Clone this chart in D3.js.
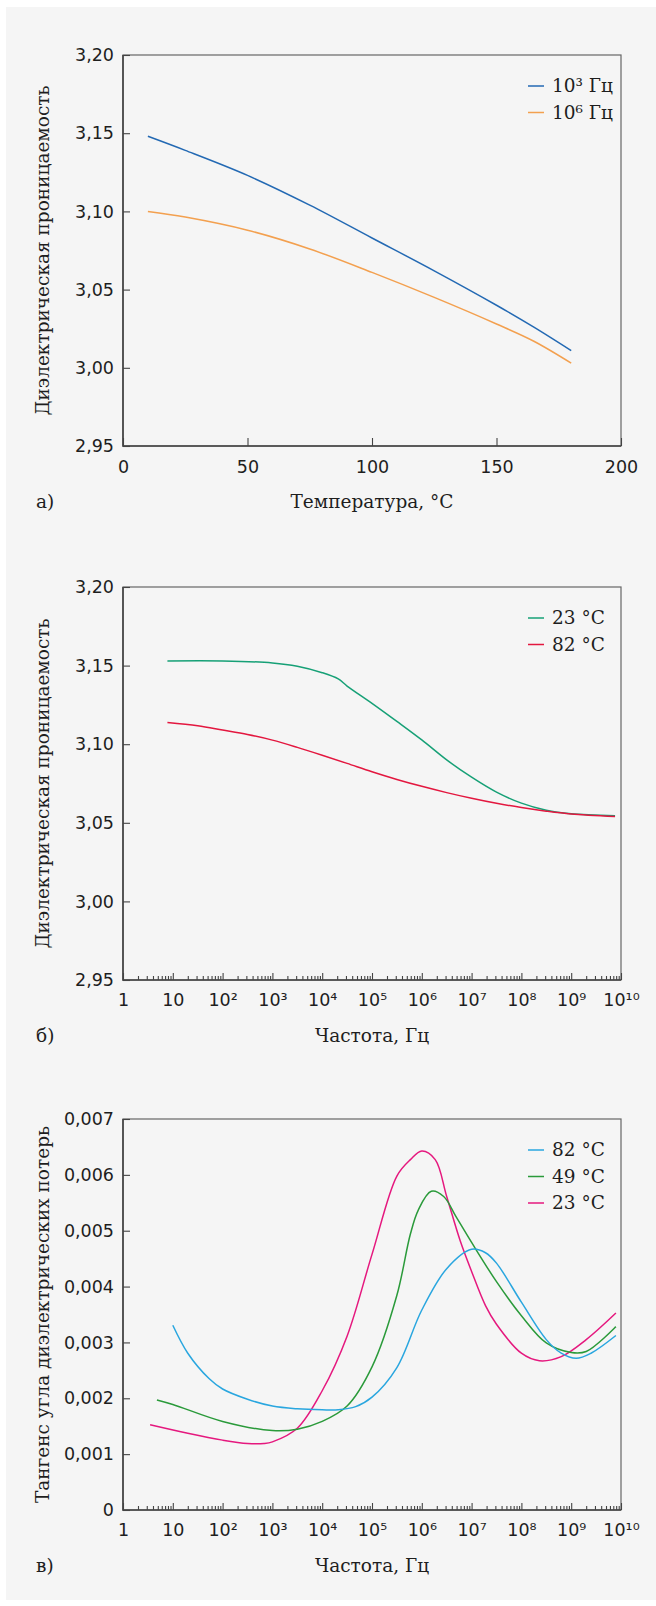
<!DOCTYPE html>
<html>
<head>
<meta charset="utf-8">
<script src="https://cdn.jsdelivr.net/npm/d3@7/dist/d3.min.js"></script>
<style>
body { margin: 0; background: #fff; }
text { fill: #1e1e1e; }
.num { font-family: "DejaVu Sans", sans-serif; font-size: 17.5px; }
.word { font-family: "DejaVu Serif", serif; font-size: 18.5px; }
</style>
</head>
<body>
<svg id="chart" width="656" height="1606"></svg>
<script>
// а) permittivity vs temperature
const tempC = [10, 25, 50, 75, 100, 125, 150, 165, 180]
const eps1e3 = [3.148, 3.139, 3.123, 3.104, 3.083, 3.062, 3.040, 3.026, 3.011]
const eps1e6 = [3.100, 3.0964, 3.088, 3.076, 3.061, 3.045, 3.028, 3.017, 3.003]
const tempTicks = [0, 50, 100, 150, 200]
const epsTicks = [2.95, 3.00, 3.05, 3.10, 3.15, 3.20]

// б) permittivity vs frequency
const freq23 = [7.8, 100, 1000, 3162, 1e4, 2.1e4, 3.16e4, 1e5, 3.16e5, 1e6, 3.16e6, 1e7, 3.16e7, 1e8, 3.16e8, 1e9, 7.6e9]
const eps23 = [3.153, 3.153, 3.1517, 3.1496, 3.1455, 3.1415, 3.137, 3.126, 3.1145, 3.1027, 3.090, 3.079, 3.0695, 3.0625, 3.058, 3.0558, 3.0545]
const freq82 = [7.8, 31.6, 100, 316, 1000, 3162, 1e4, 3.16e4, 1e5, 3.16e5, 1e6, 3.16e6, 1e7, 3.16e7, 1e8, 3.16e8, 1e9, 7.6e9]
const eps82 = [3.1138, 3.1117, 3.109, 3.1062, 3.1026, 3.098, 3.0930, 3.0878, 3.0825, 3.0776, 3.0732, 3.0692, 3.0656, 3.0624, 3.0597, 3.0574, 3.0556, 3.054]

// в) loss tangent vs frequency (values x 1e-3)
const tanFreq82 = [10, 20, 54, 100, 316, 1000, 3162, 1e4, 2.1e4, 4.7e4, 1e5, 3.16e5, 1e6, 3.16e6, 1e7, 1.9e7, 3.16e7, 1e8, 3.16e8, 6.3e8, 1.26e9, 2.5e9, 7.9e9]
const tan82 = [3.307, 2.807, 2.349, 2.166, 1.983, 1.861, 1.812, 1.794, 1.794, 1.85, 2.02, 2.55, 3.58, 4.32, 4.667, 4.606, 4.42, 3.72, 3.05, 2.807, 2.715, 2.807, 3.124]
const tanFreq49 = [4.8, 10, 100, 1000, 3162, 1e4, 3.16e4, 1e5, 3.16e5, 5.9e5, 8.5e5, 1.55e6, 2.75e6, 4.9e6, 1e7, 3.16e7, 1e8, 3.16e8, 1e9, 2e9, 7.9e9]
const tan49 = [1.971, 1.89, 1.586, 1.422, 1.446, 1.586, 1.861, 2.562, 3.844, 4.94, 5.37, 5.705, 5.613, 5.247, 4.79, 4.088, 3.478, 2.99, 2.819, 2.837, 3.283]
const tanFreq23 = [3.5, 20, 100, 316, 680, 1000, 3162, 1e4, 3.16e4, 1e5, 3.16e5, 5.9e5, 1e6, 1.86e6, 3.16e6, 5.9e6, 1e7, 1.9e7, 3.16e7, 1e8, 2.3e8, 6.3e8, 2e9, 7.9e9]
const tan23 = [1.525, 1.373, 1.251, 1.19, 1.19, 1.22, 1.464, 2.135, 3.112, 4.576, 5.979, 6.272, 6.425, 6.272, 5.613, 4.82, 4.271, 3.66, 3.325, 2.807, 2.672, 2.746, 3.051, 3.527]
const tanTicks = [0, 0.001, 0.002, 0.003, 0.004, 0.005, 0.006, 0.007]

const freqMajor = d3.range(0, 11).map(n => Math.pow(10, n))
const freqMinor = d3.range(0, 10).flatMap(n => d3.range(2, 10).map(k => k * Math.pow(10, n)))
const supDigits = '⁰¹²³⁴⁵⁶⁷⁸⁹'

let svg = d3.select('#chart')

svg.append('rect')
	.attr('x', 6).attr('y', 7)
	.attr('width', 650).attr('height', 1593)
	.attr('fill', '#f5f5f5')

let left = 123, right = 621

function decadeLabel(v) {
	let n = Math.round(Math.log10(v))
	if (n === 0) return '1'
	if (n === 1) return '10'
	return '10' + String(n).split('').map(c => supDigits[+c]).join('')
}

function drawPanel(p) {
	let g = svg.append('g')
	let y = d3.scaleLinear().domain(p.yDomain).range([p.bottom, p.top])
	let x = p.log
		? d3.scaleLog().domain([1, 1e10]).range([left, right])
		: d3.scaleLinear().domain([0, 200]).range([left, right])

	// frame
	g.append('rect')
		.attr('x', left).attr('y', p.top)
		.attr('width', right - left).attr('height', p.bottom - p.top)
		.attr('fill', 'none').attr('stroke', '#666').attr('stroke-width', 1.2)

	// y axis
	let yAxis = g.append('g')
		.attr('class', 'num')
		.attr('transform', `translate(${left},0)`)
		.call(d3.axisLeft(y).tickValues(p.yTicks).tickSizeInner(-7).tickSizeOuter(0)
			.tickPadding(9).tickFormat(p.yFormat))
	yAxis.select('.domain').remove()

	// x axis
	if (p.log) {
		let minor = g.append('g')
			.attr('transform', `translate(0,${p.bottom})`)
			.call(d3.axisBottom(x).tickValues(freqMinor).tickSizeInner(-4).tickSizeOuter(0).tickFormat(''))
		minor.select('.domain').remove()
		let major = g.append('g')
			.attr('class', 'num')
			.attr('transform', `translate(0,${p.bottom})`)
			.call(d3.axisBottom(x).tickValues(freqMajor).tickSizeInner(-7).tickSizeOuter(0)
				.tickPadding(14).tickFormat(decadeLabel))
		major.select('.domain').remove()
	} else {
		let xa = g.append('g')
			.attr('class', 'num')
			.attr('transform', `translate(0,${p.bottom})`)
			.call(d3.axisBottom(x).tickValues(tempTicks).tickSizeInner(-8).tickSizeOuter(0).tickPadding(15))
		xa.select('.domain').remove()
	}
	g.selectAll('.tick line').attr('stroke', '#444').attr('stroke-width', 1.1)
	g.selectAll('.tick text').style('fill', '#1e1e1e')

	g.append('path')
		.attr('d', `M${left},${p.top}V${p.bottom}H${right}`)
		.attr('fill', 'none').attr('stroke', '#444').attr('stroke-width', 1.6)

	// curves
	let line = d3.line()
		.x(d => x(d[0]))
		.y(d => y(d[1]))
		.curve(d3.curveCatmullRom.alpha(0.5))

	p.series.forEach(s => {
		g.append('path')
			.datum(d3.zip(s.x, s.y))
			.attr('d', line)
			.attr('fill', 'none')
			.attr('stroke', s.color)
			.attr('stroke-width', 1.5)
	})

	// legend
	p.series.slice().sort((a, b) => a.order - b.order).forEach((s, i) => {
		let ly = p.top + 31 + i * 26.5
		g.append('line')
			.attr('x1', 528).attr('x2', 544)
			.attr('y1', ly).attr('y2', ly)
			.attr('stroke', s.color).attr('stroke-width', 1.5)
		g.append('text')
			.attr('class', 'word')
			.attr('x', 552).attr('y', ly)
			.attr('dy', '0.35em')
			.text(s.label)
	})

	// titles
	g.append('text')
		.attr('class', 'word')
		.attr('transform', `translate(43,${(p.top + p.bottom) / 2}) rotate(-90)`)
		.attr('text-anchor', 'middle')
		.attr('dy', '0.35em')
		.text(p.yTitle)
	g.append('text')
		.attr('class', 'word')
		.attr('x', (left + right) / 2).attr('y', p.bottom + 56)
		.attr('text-anchor', 'middle').attr('dy', '0.35em')
		.text(p.xTitle)
	g.append('text')
		.attr('class', 'word')
		.attr('x', 36).attr('y', p.bottom + 56)
		.attr('dy', '0.35em')
		.text(p.tag)
}

let commaFmt = d => d3.format('.2f')(d).replace('.', ',')
let tanFmt = d => d === 0 ? '0' : d3.format('.3f')(d).replace('.', ',')

drawPanel({
	top: 55, bottom: 446, log: false,
	yDomain: [2.95, 3.20], yTicks: epsTicks, yFormat: commaFmt,
	yTitle: 'Диэлектрическая проницаемость', xTitle: 'Температура, °С', tag: 'а)',
	series: [
		{ x: tempC, y: eps1e3, color: '#2369b3', label: '10³ Гц', order: 0 },
		{ x: tempC, y: eps1e6, color: '#f3a04f', label: '10⁶ Гц', order: 1 },
	]
})

drawPanel({
	top: 587, bottom: 980, log: true,
	yDomain: [2.95, 3.20], yTicks: epsTicks, yFormat: commaFmt,
	yTitle: 'Диэлектрическая проницаемость', xTitle: 'Частота, Гц', tag: 'б)',
	series: [
		{ x: freq23, y: eps23, color: '#16a076', label: '23 °C', order: 0 },
		{ x: freq82, y: eps82, color: '#e3173f', label: '82 °C', order: 1 },
	]
})

drawPanel({
	top: 1119, bottom: 1510, log: true,
	yDomain: [0, 0.007], yTicks: tanTicks, yFormat: tanFmt,
	yTitle: 'Тангенс угла диэлектрических потерь', xTitle: 'Частота, Гц', tag: 'в)',
	series: [
		{ x: tanFreq23, y: tan23.map(v => v / 1000), color: '#e5187e', label: '23 °C', order: 2 },
		{ x: tanFreq49, y: tan49.map(v => v / 1000), color: '#2a9a3a', label: '49 °C', order: 1 },
		{ x: tanFreq82, y: tan82.map(v => v / 1000), color: '#29a6df', label: '82 °C', order: 0 },
	]
})
</script>
</body>
</html>
